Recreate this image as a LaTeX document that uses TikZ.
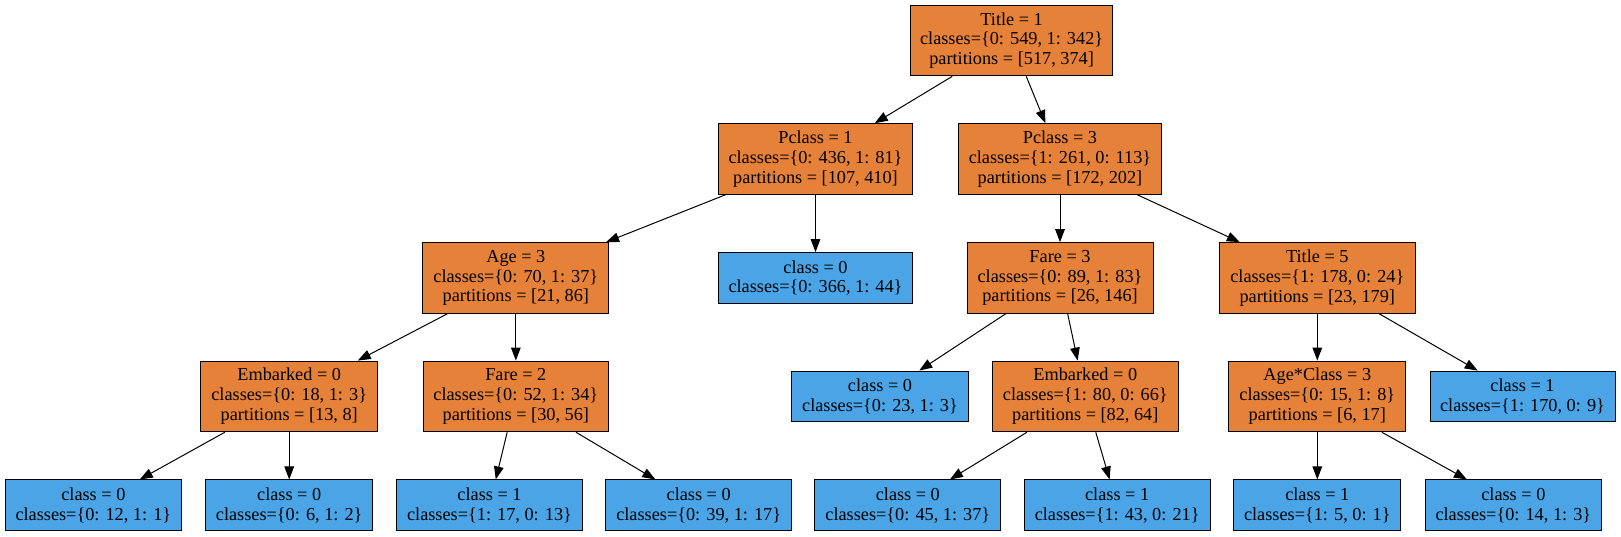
\documentclass[tikz,border=0pt]{standalone}
\usepackage{fontspec}
\setmainfont{Liberation Serif}
\usetikzlibrary{arrows.meta}
\definecolor{splitorange}{RGB}{229,129,57}
\definecolor{leafblue}{RGB}{74,164,230}
\begin{document}
\begin{tikzpicture}[x=0.75pt,y=-0.75pt,
  box/.style={draw=black,line width=0.75pt,rectangle,inner sep=0pt,align=center,
    font=\rmfamily\fontsize{13.7}{14.9}\selectfont},
  splitbox/.style={box,fill=splitorange,minimum height=53pt},
  leafbox/.style={box,fill=leafblue,minimum height=38pt},
  edge/.style={draw=black,line width=0.75pt,-{Triangle[length=9.75pt,width=7.2pt]}}]
\useasboundingbox (0,0) rectangle (1621,536);
% row 1
\node[splitbox,minimum width=151.35pt] (t1) at (1011.6,40.5) {Title = 1\\classes=\{0: 549, 1: 342\}\\partitions = [517, 374]};
% row 2
\node[splitbox,minimum width=145.8pt] (p1) at (815.5,159) {Pclass = 1\\classes=\{0: 436, 1: 81\}\\partitions = [107, 410]};
\node[splitbox,minimum width=152.55pt] (p3) at (1060,159) {Pclass = 3\\classes=\{1: 261, 0: 113\}\\partitions = [172, 202]};
% row 3
\node[splitbox,minimum width=139.7pt] (age) at (515.85,278) {Age = 3\\classes=\{0: 70, 1: 37\}\\partitions = [21, 86]};
\node[leafbox,minimum width=145.8pt] (c0a) at (815.5,278) {class = 0\\classes=\{0: 366, 1: 44\}};
\node[splitbox,minimum width=139.5pt] (fare3) at (1060,278) {Fare = 3\\classes=\{0: 89, 1: 83\}\\partitions = [26, 146]};
\node[splitbox,minimum width=146.8pt] (title5) at (1317.3,278) {Title = 5\\classes=\{1: 178, 0: 24\}\\partitions = [23, 179]};
% row 4
\node[splitbox,minimum width=132.5pt] (emb1) at (289.2,396.4) {Embarked = 0\\classes=\{0: 18, 1: 3\}\\partitions = [13, 8]};
\node[splitbox,minimum width=139.2pt] (fare2) at (515.85,396.4) {Fare = 2\\classes=\{0: 52, 1: 34\}\\partitions = [30, 56]};
\node[leafbox,minimum width=132.5pt] (c0b) at (880,396.4) {class = 0\\classes=\{0: 23, 1: 3\}};
\node[splitbox,minimum width=139.5pt] (emb2) at (1085.3,396.4) {Embarked = 0\\classes=\{1: 80, 0: 66\}\\partitions = [82, 64]};
\node[splitbox,minimum width=132.5pt] (ac) at (1317.3,396.4) {Age*Class = 3\\classes=\{0: 15, 1: 8\}\\partitions = [6, 17]};
\node[leafbox,minimum width=138.75pt] (c1a) at (1522.5,396.4) {class = 1\\classes=\{1: 170, 0: 9\}};
% row 5
\node[leafbox,minimum width=132.5pt] (l1) at (93.35,505.3) {class = 0\\classes=\{0: 12, 1: 1\}};
\node[leafbox,minimum width=125pt] (l2) at (289.2,505.3) {class = 0\\classes=\{0: 6, 1: 2\}};
\node[leafbox,minimum width=139.2pt] (l3) at (489.5,505.3) {class = 1\\classes=\{1: 17, 0: 13\}};
\node[leafbox,minimum width=139.5pt] (l4) at (698.7,505.3) {class = 0\\classes=\{0: 39, 1: 17\}};
\node[leafbox,minimum width=139.3pt] (l5) at (907.85,505.3) {class = 0\\classes=\{0: 45, 1: 37\}};
\node[leafbox,minimum width=139.3pt] (l6) at (1117.15,505.3) {class = 1\\classes=\{1: 43, 0: 21\}};
\node[leafbox,minimum width=125pt] (l7) at (1317.3,505.3) {class = 1\\classes=\{1: 5, 0: 1\}};
\node[leafbox,minimum width=131.5pt] (l8) at (1513.35,505.3) {class = 0\\classes=\{0: 14, 1: 3\}};
% edges
\draw[edge] (t1) -- (p1);
\draw[edge] (t1) -- (p3);
\draw[edge] (p1) -- (age);
\draw[edge] (p1) -- (c0a);
\draw[edge] (p3) -- (fare3);
\draw[edge] (p3) -- (title5);
\draw[edge] (age) -- (emb1);
\draw[edge] (age) -- (fare2);
\draw[edge] (fare3) -- (c0b);
\draw[edge] (fare3) -- (emb2);
\draw[edge] (title5) -- (ac);
\draw[edge] (title5) -- (c1a);
\draw[edge] (emb1) -- (l1);
\draw[edge] (emb1) -- (l2);
\draw[edge] (fare2) -- (l3);
\draw[edge] (fare2) -- (l4);
\draw[edge] (emb2) -- (l5);
\draw[edge] (emb2) -- (l6);
\draw[edge] (ac) -- (l7);
\draw[edge] (ac) -- (l8);
\end{tikzpicture}
\end{document}
